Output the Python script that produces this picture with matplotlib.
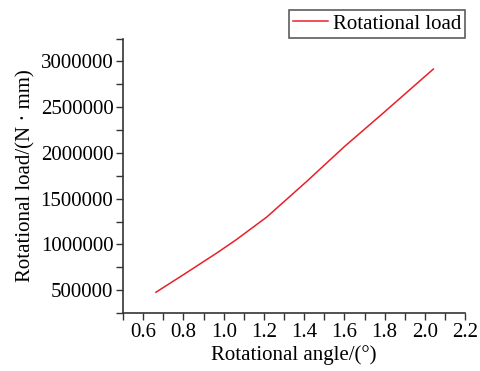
import matplotlib
matplotlib.use("Agg")
import matplotlib.pyplot as plt
from matplotlib.ticker import MultipleLocator, FuncFormatter

angle = [0.663, 0.799, 0.965, 1.064, 1.214, 1.413, 1.60, 1.80, 2.042]
load = [478000, 669000, 906000, 1055000, 1300000, 1690000, 2070000, 2450000, 2917000]

plt.rcParams['font.family'] = ['Liberation Serif', 'DejaVu Serif']

fig = plt.figure(figsize=(4.81, 3.71), dpi=100)
ax = fig.add_axes([0.256, 0.156, 0.711, 0.740])
ax.plot(angle, load, color='#e8202a', lw=1.1, label='Rotational load')
ax.set_xlim(0.5, 2.2)
ax.set_ylim(250000, 3250000)
ax.xaxis.set_major_locator(MultipleLocator(0.2))
ax.xaxis.set_minor_locator(MultipleLocator(0.1))
ax.yaxis.set_major_locator(MultipleLocator(500000))
ax.yaxis.set_minor_locator(MultipleLocator(250000))
ax.xaxis.set_major_formatter(FuncFormatter(lambda v, p: f"{v:.1f}"))
ax.yaxis.set_major_formatter(FuncFormatter(lambda v, p: f"{int(round(v))}"))
for s in ['top', 'right']:
    ax.spines[s].set_visible(False)
for s in ['left', 'bottom']:
    ax.spines[s].set_color('#333333')
    ax.spines[s].set_linewidth(1.2)
ax.tick_params(which='both', direction='out', length=5, width=1.0, color='#333333', labelsize=15, pad=2)
ax.set_xlabel('Rotational angle/(°)', fontsize=15, labelpad=2)
ax.set_ylabel('Rotational load/(N · mm)', fontsize=15, labelpad=4)
leg = ax.legend(loc='upper right', bbox_to_anchor=(1.0, 1.105), fontsize=15, frameon=True,
                fancybox=False, handlelength=1.7, handletextpad=0.2, borderpad=0.2,
                borderaxespad=0)
leg.get_frame().set_edgecolor('#333333')
leg.get_frame().set_linewidth(1.2)
fig.savefig('out.png', dpi=100)
